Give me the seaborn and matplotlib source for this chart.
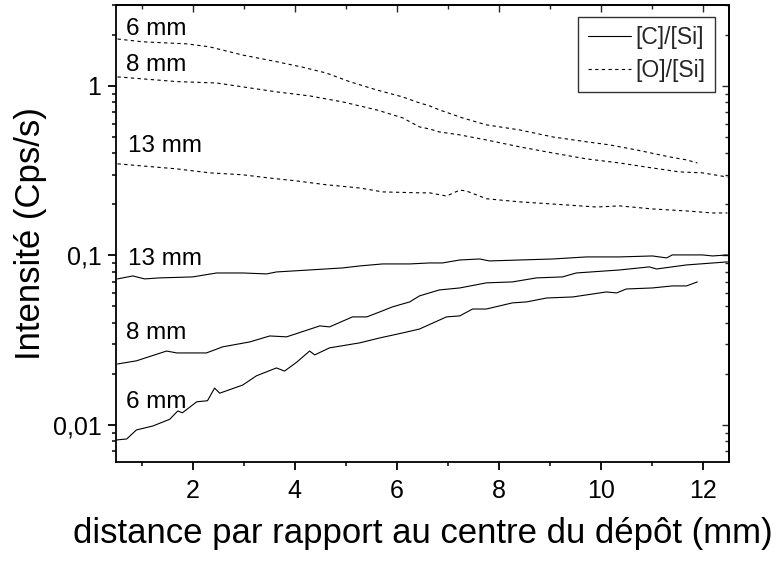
"""
Intensity ratio profiles [C]/[Si] and [O]/[Si] vs distance from deposit centre.
"""
import numpy as np
import pandas as pd
import matplotlib
matplotlib.use("Agg")
import matplotlib.pyplot as plt
from matplotlib.ticker import FuncFormatter, LogLocator, NullFormatter, MultipleLocator
import seaborn as sns

# --- data (distance in mm, intensity in Cps/s) ---
o6_x = [0.53, 1.02, 1.88, 2.33, 2.98, 3.64, 4.15, 4.62, 5.07, 5.60, 6.11, 6.44, 6.64, 6.83,
        7.28, 7.75, 8.40, 9.05, 9.71, 10.16, 10.69, 11.34, 11.67, 11.88]
o6_y = [1.89, 1.82, 1.77, 1.70, 1.52, 1.39, 1.29, 1.19, 1.06, 0.947, 0.861, 0.794, 0.762, 0.722,
        0.648, 0.589, 0.550, 0.500, 0.468, 0.449, 0.419, 0.381, 0.366, 0.351]

o8_x = [0.53, 1.02, 1.69, 2.47, 2.98, 3.64, 4.29, 4.94, 5.60, 6.11, 6.44, 6.64, 6.83, 7.23,
        7.75, 8.40, 9.05, 9.71, 10.36, 11.00, 11.53, 11.98, 12.47]
o8_y = [1.13, 1.10, 1.06, 1.04, 0.987, 0.922, 0.873, 0.804, 0.722, 0.648, 0.573, 0.557, 0.535, 0.514,
        0.480, 0.437, 0.402, 0.371, 0.351, 0.328, 0.311, 0.307, 0.290]

o13_x = [0.53, 1.02, 1.69, 2.33, 2.98, 3.51, 4.04, 4.62, 5.27, 5.72, 6.44, 6.64, 6.97, 7.23,
         7.36, 7.75, 8.40, 9.05, 9.91, 10.36, 11.00, 11.67, 12.18, 12.47]
o13_y = [0.347, 0.337, 0.324, 0.307, 0.299, 0.286, 0.275, 0.261, 0.250, 0.237, 0.234, 0.234, 0.224, 0.243,
         0.240, 0.216, 0.207, 0.201, 0.193, 0.196, 0.188, 0.183, 0.178, 0.178]

c13_x = [0.53, 0.83, 1.06, 1.35, 2.00, 2.47, 2.98, 3.45, 3.64, 4.29, 4.94, 5.27, 5.72, 6.25, 6.64,
         6.89, 7.23, 7.62, 7.81, 8.40, 9.05, 9.71, 10.36, 11.00, 11.28, 11.39, 11.98, 12.18, 12.47]
c13_y = [0.0727, 0.0757, 0.0727, 0.0737, 0.0747, 0.0788, 0.0788, 0.0778, 0.0799, 0.0821, 0.0844,
         0.0867, 0.0891, 0.0891, 0.0903, 0.0903, 0.0940, 0.0953, 0.0928, 0.0940, 0.0953, 0.0980,
         0.0980, 0.0993, 0.0967, 0.1007, 0.1007, 0.0993, 0.1007]

c8_x = [0.53, 0.90, 1.49, 1.69, 2.27, 2.59, 3.12, 3.51, 3.84, 4.49, 4.68, 5.13, 5.41, 5.66, 5.91,
        6.25, 6.44, 6.83, 7.23, 7.75, 8.26, 8.73, 9.24, 9.51, 10.36, 10.94, 11.08, 11.67, 12.47]
c8_y = [0.0229, 0.0239, 0.0273, 0.0266, 0.0266, 0.0289, 0.0309, 0.0335, 0.0331, 0.0384, 0.0379,
        0.0434, 0.0434, 0.0464, 0.0497, 0.0532, 0.0577, 0.0626, 0.0643, 0.0689, 0.0698, 0.0737,
        0.0747, 0.0788, 0.0821, 0.0856, 0.0832, 0.0879, 0.0916]

c6_x = [0.51, 0.71, 0.90, 1.22, 1.55, 1.71, 1.80, 2.08, 2.29, 2.43, 2.53, 2.98, 3.25, 3.64, 3.80,
        4.04, 4.29, 4.39, 4.68, 5.27, 5.66, 6.11, 6.44, 6.97, 7.23, 7.48, 7.75, 8.01, 8.26, 8.54,
        8.93, 9.44, 9.71, 10.10, 10.30, 10.49, 11.00, 11.39, 11.67, 11.88]
c6_y = [0.00816, 0.00827, 0.00935, 0.00986, 0.0108, 0.0121, 0.0118, 0.0137, 0.0139, 0.0165, 0.0154,
        0.0172, 0.0195, 0.0217, 0.0208, 0.0235, 0.0273, 0.0259, 0.0285, 0.0305, 0.0326, 0.0349,
        0.0368, 0.0434, 0.0440, 0.0483, 0.0483, 0.0504, 0.0525, 0.0532, 0.0561, 0.0569, 0.0585,
        0.0609, 0.0601, 0.0634, 0.0643, 0.0661, 0.0661, 0.0698]

# curve labels: text, x, y (baseline)
label_text = ["6 mm", "8 mm", "13 mm", "13 mm", "8 mm", "6 mm"]
label_x = [0.70, 0.70, 0.74, 0.74, 0.70, 0.70]
label_y = [2.0, 1.23, 0.41, 0.088, 0.032, 0.01255]


def main():
    sns.set_theme(style="ticks")
    plt.rcParams['font.family'] = ['Liberation Sans', 'DejaVu Sans']
    plt.rcParams['axes.linewidth'] = 1.3

    fig = plt.figure(figsize=(7.77, 5.61), dpi=100)
    ax = fig.add_axes([0.1493, 0.1765, 0.7889, 0.8146])

    c_series = [(c13_x, c13_y), (c8_x, c8_y), (c6_x, c6_y)]
    o_series = [(o6_x, o6_y), (o8_x, o8_y), (o13_x, o13_y)]

    for i, (xs, ys) in enumerate(c_series):
        df = pd.DataFrame({'x': xs, 'y': ys})
        sns.lineplot(data=df, x='x', y='y', ax=ax, color='black', linewidth=0.8,
                     estimator=None, sort=False,
                     label='[C]/[Si]' if i == 0 else '_nolegend_')
    for i, (xs, ys) in enumerate(o_series):
        df = pd.DataFrame({'x': xs, 'y': ys})
        sns.lineplot(data=df, x='x', y='y', ax=ax, color='black', linewidth=0.8,
                     linestyle=(0, (3, 3)), estimator=None, sort=False,
                     label='[O]/[Si]' if i == 0 else '_nolegend_')

    ax.set_yscale('log')
    ax.set_xlim(0.5, 12.5)
    ax.set_ylim(0.00605, 3.0)

    # labels next to each curve
    for t, x, y in zip(label_text, label_x, label_y):
        ax.text(x, y, t, fontsize=17.5, ha='left', va='baseline', color='black')

    # ticks: outward on left/bottom, inward mirrors on top/right
    ax.xaxis.set_major_locator(MultipleLocator(2))
    ax.xaxis.set_minor_locator(MultipleLocator(1))
    ax.yaxis.set_major_locator(LogLocator(base=10, numticks=10))
    ax.yaxis.set_minor_locator(LogLocator(base=10, subs=np.arange(2, 10), numticks=20))
    ax.yaxis.set_minor_formatter(NullFormatter())
    ax.yaxis.set_major_formatter(FuncFormatter(lambda v, p: f"{v:g}".replace('.', ',')))
    ax.tick_params(which='major', direction='out', length=5.5, width=1.3, labelsize=18,
                   color='black', labelcolor='black', pad=5)
    ax.tick_params(which='minor', direction='out', length=3, width=1.1, color='black')
    ax.tick_params(axis='x', which='major', pad=7)

    top = ax.secondary_xaxis('top')
    top.xaxis.set_major_locator(MultipleLocator(2))
    top.xaxis.set_minor_locator(MultipleLocator(1))
    top.tick_params(which='major', direction='in', length=5, width=1.0, labeltop=False)
    top.tick_params(which='minor', direction='in', length=3, width=1.0)
    right = ax.secondary_yaxis('right')
    right.yaxis.set_minor_locator(LogLocator(base=10, subs=np.arange(2, 10), numticks=20))
    right.yaxis.set_minor_formatter(NullFormatter())
    right.tick_params(which='major', direction='in', length=5, width=1.0, labelright=False)
    right.tick_params(which='minor', direction='in', length=3, width=1.0)

    for side in ['top', 'right', 'left', 'bottom']:
        ax.spines[side].set_visible(True)
        ax.spines[side].set_color('black')

    ax.set_xlabel('distance par rapport au centre du dépôt (mm)', fontsize=25, labelpad=10,
                  color='black')
    ax.set_ylabel('Intensité (Cps/s)', fontsize=25, labelpad=4, color='black')

    leg = ax.legend(loc='upper right', bbox_to_anchor=(0.977, 0.974), borderaxespad=0,
                    fontsize=16.5, frameon=True, fancybox=False, handlelength=1.9,
                    handletextpad=0.2, labelspacing=0.45, borderpad=0.4)
    leg.get_frame().set_edgecolor('black')
    leg.get_frame().set_linewidth(1.0)

    plt.savefig('out.png', dpi=100)
    print("Generated: out.png")


if __name__ == "__main__":
    main()
